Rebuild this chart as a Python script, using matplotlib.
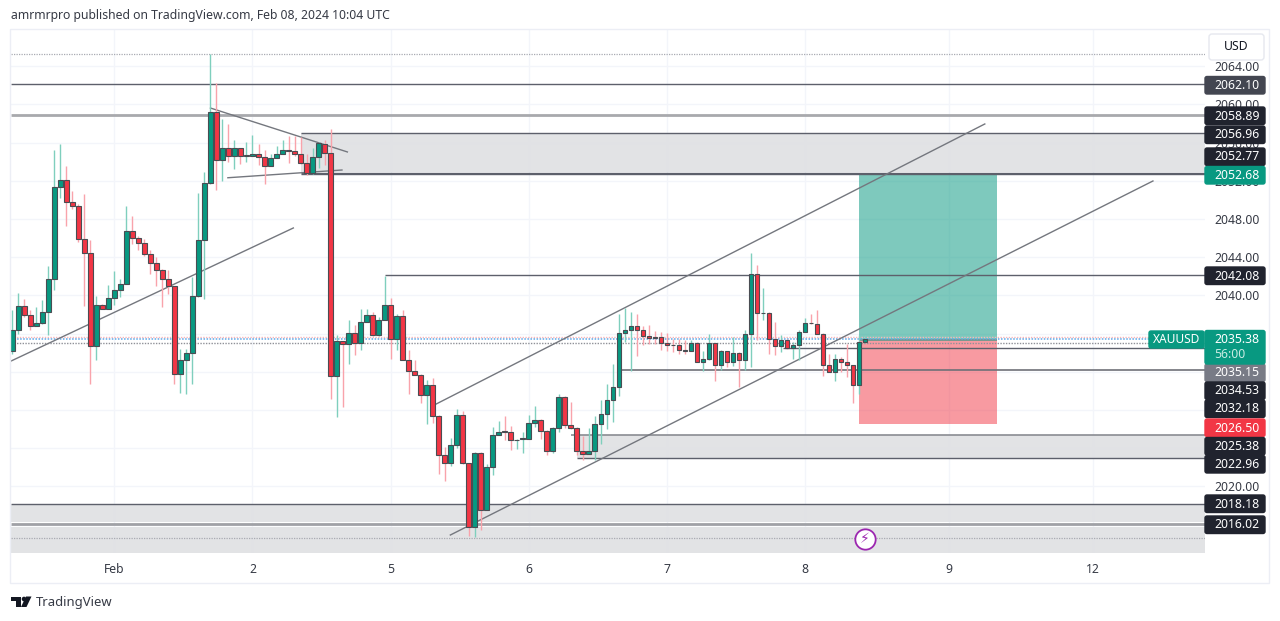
import matplotlib
matplotlib.use("Agg")
import matplotlib.pyplot as plt
from matplotlib.patches import FancyBboxPatch, Polygon, Rectangle, Circle
from matplotlib.transforms import Affine2D

plt.rcParams["font.family"] = ["Noto Sans", "DejaVu Sans"]

opens = [2034.17, 2036.41, 2038.88, 2037.98, 2036.79, 2037.07, 2038.29, 2041.75, 2051.38, 2052.11,
         2049.81, 2049.39, 2045.93, 2044.47, 2034.66, 2039.02, 2038.61, 2039.72, 2040.52, 2041.22,
         2046.74, 2045.97, 2045.52, 2044.36, 2043.39, 2042.69, 2041.75, 2040.94, 2031.73, 2033.27,
         2034.00, 2039.90, 2045.76, 2051.76, 2059.23, 2054.21, 2055.46, 2054.55, 2055.39, 2054.58,
         2054.62, 2054.80, 2054.52, 2053.58, 2054.42, 2054.80, 2055.25, 2055.11, 2054.80, 2053.82,
         2052.81, 2054.52, 2055.88, 2054.94, 2031.52, 2035.22, 2034.87, 2036.02, 2035.05, 2037.24,
         2037.98, 2035.81, 2037.45, 2039.02, 2035.46, 2037.84, 2033.27, 2032.11, 2031.70, 2029.60,
         2030.65, 2027.37, 2023.25, 2022.48, 2024.30, 2027.44, 2022.45, 2015.75, 2023.50, 2017.56,
         2021.99, 2025.41, 2025.76, 2025.69, 2024.82, 2024.99, 2024.99, 2026.64, 2026.91, 2025.83,
         2023.70, 2026.15, 2029.32, 2026.46, 2026.15, 2023.70, 2023.42, 2023.74, 2026.57, 2027.61,
         2029.01, 2030.44, 2036.06, 2036.41, 2036.79, 2036.41, 2035.78, 2035.64, 2035.64, 2035.04,
         2034.83, 2034.76, 2034.24, 2034.20, 2035.04, 2033.05, 2033.30, 2034.97, 2032.74, 2034.17,
         2033.02, 2033.93, 2033.26, 2035.99, 2042.27, 2038.15, 2038.19, 2035.42, 2034.70, 2035.36,
         2034.49, 2034.80, 2036.20, 2037.14, 2037.03, 2035.99, 2032.67, 2032.01, 2033.37, 2033.02,
         2032.67, 2030.65, 2035.11]
highs = [2038.50, 2040.28, 2039.65, 2038.43, 2038.78, 2039.48, 2043.07, 2055.18, 2055.81, 2053.54,
         2050.89, 2049.60, 2050.65, 2045.76, 2039.90, 2039.04, 2041.12, 2042.51, 2041.75, 2049.39,
         2048.31, 2046.21, 2045.86, 2044.78, 2044.01, 2042.72, 2042.69, 2040.97, 2034.38, 2034.38,
         2041.92, 2050.72, 2052.88, 2065.25, 2062.23, 2058.50, 2057.97, 2056.23, 2055.42, 2056.06,
         2056.79, 2055.81, 2055.25, 2054.83, 2055.67, 2056.30, 2056.65, 2056.72, 2056.58, 2054.83,
         2055.46, 2056.02, 2056.23, 2057.45, 2035.88, 2035.24, 2037.38, 2036.86, 2038.61, 2038.61,
         2038.26, 2037.73, 2041.99, 2039.72, 2038.08, 2038.50, 2034.31, 2033.20, 2031.72, 2031.10,
         2031.38, 2027.45, 2024.12, 2025.10, 2028.14, 2027.89, 2022.48, 2023.55, 2023.55, 2022.38,
         2026.22, 2026.84, 2027.37, 2026.29, 2024.96, 2025.69, 2027.47, 2028.45, 2027.09, 2025.87,
         2026.22, 2029.64, 2029.43, 2028.80, 2026.22, 2025.31, 2026.15, 2027.37, 2029.01, 2030.75,
         2032.85, 2038.01, 2038.67, 2038.22, 2038.08, 2036.75, 2036.86, 2036.27, 2036.16, 2036.06,
         2035.46, 2035.46, 2035.29, 2035.36, 2035.11, 2034.17, 2035.99, 2035.01, 2034.24, 2034.20,
         2035.64, 2034.07, 2036.41, 2044.43, 2043.14, 2040.77, 2038.26, 2037.21, 2035.81, 2035.46,
         2035.11, 2036.41, 2037.63, 2038.01, 2038.50, 2036.02, 2033.89, 2033.89, 2033.54, 2034.87,
         2032.70, 2035.81, 2035.81]
lows = [2033.82, 2035.99, 2037.73, 2036.41, 2036.76, 2036.97, 2035.81, 2040.52, 2050.23, 2047.30,
        2049.08, 2045.59, 2038.85, 2030.68, 2033.20, 2038.58, 2038.58, 2038.95, 2039.83, 2041.15,
        2045.34, 2044.71, 2044.08, 2042.27, 2040.94, 2038.78, 2040.18, 2030.75, 2029.78, 2029.71,
        2030.68, 2039.83, 2039.62, 2051.69, 2051.06, 2051.97, 2053.96, 2053.26, 2053.72, 2053.96,
        2054.60, 2053.61, 2051.69, 2053.51, 2054.40, 2054.76, 2053.86, 2054.55, 2053.72, 2052.57,
        2052.67, 2053.37, 2053.61, 2029.18, 2027.26, 2028.31, 2032.85, 2033.72, 2034.24, 2037.21,
        2035.74, 2035.74, 2037.38, 2033.37, 2034.24, 2033.20, 2029.64, 2031.63, 2028.73, 2026.56,
        2026.64, 2021.33, 2020.53, 2022.13, 2024.05, 2022.38, 2014.84, 2014.70, 2015.40, 2017.49,
        2021.16, 2025.34, 2024.89, 2023.84, 2023.95, 2023.53, 2024.96, 2026.22, 2024.99, 2023.25,
        2023.50, 2025.66, 2026.15, 2026.04, 2023.25, 2022.80, 2023.35, 2022.80, 2024.40, 2026.04,
        2026.74, 2029.42, 2035.11, 2032.04, 2033.61, 2034.76, 2034.94, 2034.87, 2034.24, 2034.17,
        2034.07, 2033.89, 2033.89, 2034.17, 2032.99, 2032.08, 2033.20, 2031.03, 2032.15, 2032.50,
        2032.57, 2030.40, 2032.15, 2032.50, 2035.29, 2037.38, 2033.82, 2033.72, 2034.07, 2034.42,
        2033.37, 2033.26, 2036.16, 2037.03, 2035.92, 2031.52, 2031.94, 2031.00, 2031.97, 2031.45,
        2028.73, 2029.63, 2035.05]
closes = [2036.41, 2038.88, 2037.98, 2036.79, 2037.07, 2038.29, 2041.75, 2051.38, 2052.11, 2049.81,
          2049.39, 2045.93, 2044.47, 2034.66, 2039.02, 2038.61, 2039.72, 2040.52, 2041.22, 2046.74,
          2045.97, 2045.52, 2044.36, 2043.39, 2042.69, 2041.75, 2040.94, 2031.73, 2033.27, 2034.00,
          2039.90, 2045.76, 2051.76, 2059.23, 2054.21, 2055.46, 2054.55, 2055.39, 2054.62, 2054.66,
          2054.80, 2054.52, 2053.58, 2054.42, 2054.80, 2055.25, 2055.11, 2054.80, 2053.82, 2052.81,
          2054.52, 2055.95, 2054.94, 2031.52, 2035.22, 2034.87, 2036.02, 2035.05, 2037.24, 2037.98,
          2035.81, 2037.45, 2039.02, 2035.46, 2037.84, 2033.27, 2032.11, 2031.70, 2029.60, 2030.65,
          2027.37, 2023.25, 2022.48, 2024.30, 2027.44, 2022.45, 2015.75, 2023.50, 2017.56, 2021.99,
          2025.41, 2025.73, 2025.69, 2024.82, 2024.89, 2025.03, 2026.64, 2026.91, 2025.83, 2023.70,
          2026.15, 2029.32, 2026.46, 2026.15, 2023.70, 2023.42, 2023.74, 2026.57, 2027.61, 2029.01,
          2030.44, 2036.06, 2036.41, 2036.79, 2036.41, 2035.78, 2035.50, 2035.53, 2035.04, 2034.80,
          2034.76, 2034.24, 2034.20, 2035.04, 2033.05, 2033.30, 2034.97, 2032.74, 2034.17, 2033.02,
          2033.93, 2033.26, 2035.99, 2042.27, 2038.15, 2038.19, 2035.46, 2034.70, 2035.36, 2034.49,
          2034.80, 2036.20, 2037.11, 2037.11, 2035.99, 2032.67, 2032.01, 2033.37, 2033.02, 2032.67,
          2030.65, 2035.11, 2035.38]

price_ticks = list(range(2016, 2068, 4))
# these tick labels sit fully behind a price box in the reference
hidden_ticks = [2016, 2024, 2028, 2032]
date_ticks = [17, 40, 63, 86, 109, 132, 156, 180]
date_labels = ["Feb", "2", "5", "6", "7", "8", "9", "12"]

# drawn levels: price, first candle
levels = [2062.10, 2058.89, 2056.96, 2052.77, 2042.08, 2034.53, 2032.18, 2025.38, 2022.96, 2018.18, 2016.02]
level_starts = [-0.2, -0.2, 48, 48, 62, 128.3, 101.4, 93, 94, -0.2, -0.2]
level_colors = ["#5d606b", "#a8a9ad", "#5d606b", "#5d606b", "#5d606b", "#5d606b", "#6f7178", "#8a8c92", "#5d606b", "#5d606b", "#a0a1a6"]
level_widths = [1, 2, 1, 1, 1, 1, 1.2, 1.2, 1, 1, 2]

# zones: low, high, first candle
zone_lows = [2052.95, 2022.96, 2016.25, 2013.02]
zone_highs = [2056.96, 2025.38, 2018.18, 2015.75]
zone_starts = [48, 94, -0.2, -0.2]

# trendlines as (candle, price) pairs
trend_x = [[-0.2, 46.8], [33, 55.8], [35.9, 54.9], [70.6, 161.95], [72.95, 189.95]]
trend_y = [[2033.12, 2047.05], [2059.61, 2055.01], [2052.31, 2053.12], [2028.62, 2057.94], [2014.90, 2051.97]]

pos_start, pos_end = 141, 164
entry, take_profit, stop_loss = 2035.38, 2052.68, 2026.50

# price scale labels
label_texts = ["2062.10", "2058.89", "2056.96", "2052.77", "2052.68", "2042.08", "2035.15",
               "2034.53", "2032.18", "2026.50", "2025.38", "2022.96", "2018.18", "2016.02"]
label_rows = [85.5, 116, 135, 157, 175.5, 276, 373, 391, 409, 428, 446.5, 464.5, 504, 525]
label_colors = ["#434651", "#20232e", "#20232e", "#20232e", "#089981", "#20232e", "#787b86",
                "#20232e", "#20232e", "#f23645", "#20232e", "#20232e", "#20232e", "#20232e"]

TEXT = "#363a45"
GREEN = "#089981"
RED = "#f23645"
X_MAX = 198.62

fig = plt.figure(figsize=(12.8, 6.21), dpi=100)
pix = Affine2D().scale(1, -1).translate(0, 621)

ax = fig.add_axes([11 / 1280, 1 - 553 / 621, (1205 - 11) / 1280, (553 - 29) / 621])
ax.set_xlim(-0.217, X_MAX)
ax.set_ylim(2013.016, 2067.885)
for s in ax.spines.values():
    s.set_visible(False)

ax.yaxis.tick_right()
ax.set_yticks(price_ticks)
ax.set_yticklabels(["" if p in hidden_ticks else "%.2f" % p for p in price_ticks], fontsize=8.8, color=TEXT)
ax.set_xticks(date_ticks)
ax.set_xticklabels(date_labels, fontsize=8.8, color=TEXT)
ax.tick_params(axis="both", length=0)
ax.tick_params(axis="y", pad=6.5)
ax.tick_params(axis="x", pad=7)
ax.grid(True, color="#f3f5fa", lw=1, zorder=0.5)
ax.set_axisbelow(True)

for lo, hi, st in zip(zone_lows, zone_highs, zone_starts):
    ax.fill_between([st, X_MAX], lo, hi, color="#dfe0e3", lw=0, alpha=0.9, zorder=1)

ax.fill_between([pos_start, pos_end], entry - 0.2, take_profit, color=GREEN, alpha=0.52, lw=0, zorder=1.2)
ax.fill_between([pos_start, pos_end], stop_loss, entry, color=RED, alpha=0.5, lw=0, zorder=1.1)

# dotted session lines
ax.axhline(2065.25, color="#a9abb2", lw=0.9, ls=(0, (1, 1)), zorder=1.5)
ax.axhline(2014.6, color="#a9abb2", lw=0.9, ls=(0, (1, 1)), zorder=1.5)
ax.axhline(2035.62, color="#f7b6bb", lw=1, ls=(0, (1, 1)), zorder=1.5)
ax.axhline(2035.38, color="#5ea8e8", lw=1.1, ls=(0, (1, 1)), zorder=1.5)
ax.axhline(2035.02, color="#8f9198", lw=1, ls=(0, (1, 1)), zorder=1.5)

for p, st, c, w in zip(levels, level_starts, level_colors, level_widths):
    ax.hlines(p, st, X_MAX, color=c, lw=w, zorder=2)
ax.hlines(take_profit, 48, X_MAX, color="#5d606b", lw=1, zorder=2)

for xs, ys in zip(trend_x, trend_y):
    ax.plot(xs, ys, color="#74777e", lw=1, zorder=3)

idx = list(range(len(opens)))
up = [c >= o for o, c in zip(opens, closes)]
wick_colors = ["#7fcfbd" if u else "#f9a3ab" for u in up]
ax.vlines(idx, lows, highs, colors=wick_colors, lw=1, zorder=4)
bottoms = [min(o, c) for o, c in zip(opens, closes)]
heights = [abs(c - o) for o, c in zip(opens, closes)]
ax.bar(idx, heights, bottom=bottoms, width=0.76, color=[GREEN if u else RED for u in up],
       edgecolor="#4a4d53", linewidth=0.8, zorder=5)

ax.scatter([142], [2014.5], s=215, facecolor="white", edgecolor="#9c27b0", linewidth=1.3, zorder=6)
ax.text(142, 2014.45, "\u26a1", color="#9c27b0", fontsize=10, ha="center", va="center",
        family="DejaVu Sans", zorder=7)

# chart frame
fig.add_artist(Rectangle((10, 29), 1259, 554, fill=False, edgecolor="#eceef5", lw=1, transform=pix))


def price_box(top, bottom, color, x0=1205, x1=1265):
    fig.add_artist(FancyBboxPatch((x0, top + 1), x1 - x0, bottom - top - 2, boxstyle="round,pad=0,rounding_size=2",
                                  facecolor=color, edgecolor=color, lw=1, transform=pix))


for txt, row, col in zip(label_texts, label_rows, label_colors):
    price_box(row - 10, row + 9.5, col)
for txt, row, col in zip(label_texts, label_rows, label_colors):
    fig.text(1214, row, txt, color="white", fontsize=8.8, va="center", ha="left", weight="medium", transform=pix)

price_box(329.5, 365, GREEN)
fig.text(1214, 339.5, "2035.38", color="white", fontsize=8.8, va="center", transform=pix)
fig.text(1214, 355, "56:00", color="#c9ebe3", fontsize=8.8, va="center", transform=pix)
price_box(330, 349, GREEN, 1149, 1204)
fig.text(1176.5, 339.5, "XAUUSD", color="white", fontsize=8.6, va="center", ha="center", transform=pix)

fig.add_artist(FancyBboxPatch((1209, 34), 55, 26, boxstyle="round,pad=0,rounding_size=3",
                              facecolor="white", edgecolor="#e6e8ef", lw=1, transform=pix))
fig.text(1236.5, 47, "USD", color="#131722", fontsize=8.8, va="center", ha="center", transform=pix)

fig.text(11, 16, "amrmrpro published on TradingView.com, Feb 08, 2024 10:04 UTC", color=TEXT,
         fontsize=8.8, va="center", transform=pix)

# logo
fig.add_artist(Polygon([(11, 596.5), (21, 596.5), (21, 607), (15.5, 607), (15.5, 601), (11, 601)],
                       facecolor="#131722", edgecolor="none", transform=pix))
fig.add_artist(Circle((24, 599), 2.3, facecolor="#131722", edgecolor="none", transform=pix))
fig.add_artist(Polygon([(26, 596.5), (31.5, 596.5), (26.5, 607), (21, 607)],
                       facecolor="#131722", edgecolor="none", transform=pix))
fig.text(36, 602.5, "TradingView", color=TEXT, fontsize=9.4, va="center", transform=pix)

fig.savefig("out.png", dpi=100)
